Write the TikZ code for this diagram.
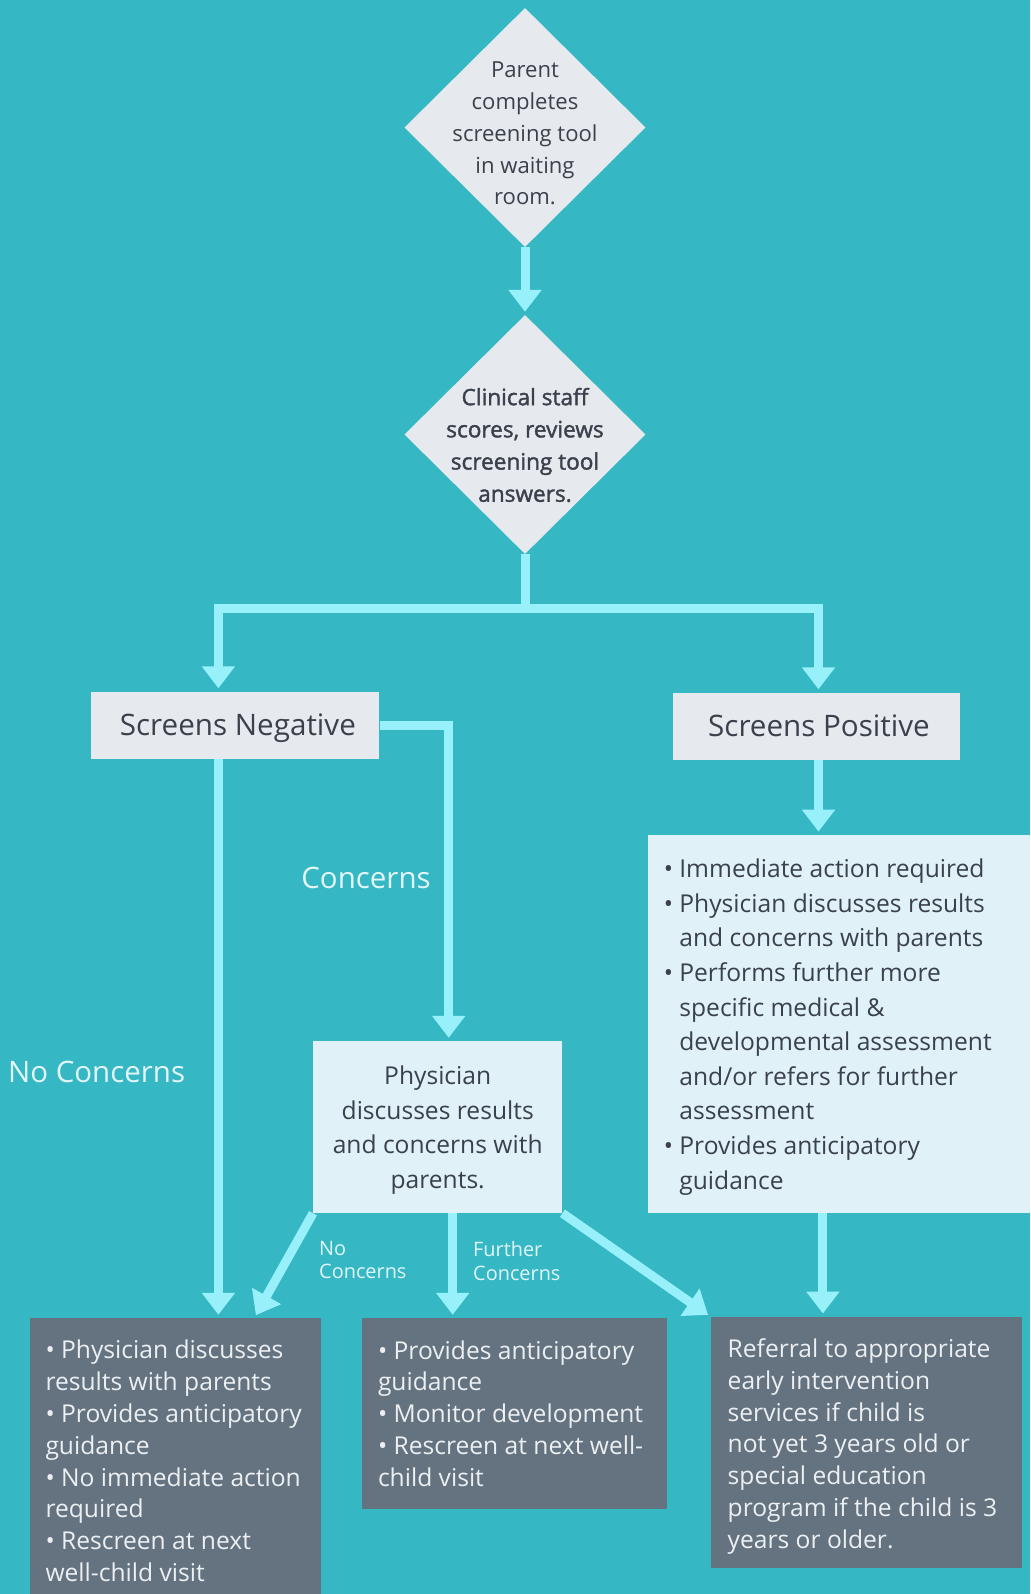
\documentclass[tikz,border=0pt]{standalone}
\usepackage{fontspec}
\setmainfont{Open Sans}
\newfontfamily\semibold{Open Sans}[FakeBold=1.6]
\usetikzlibrary{shapes.geometric,arrows.meta}
\definecolor{bg}{RGB}{53,184,196}
\definecolor{flowc}{RGB}{152,240,250}
\definecolor{greybox}{RGB}{230,233,238}
\definecolor{paleblue}{RGB}{224,241,248}
\definecolor{slate}{RGB}{101,114,127}
\definecolor{ink}{RGB}{58,65,76}
\definecolor{lighttext}{RGB}{236,240,243}
\definecolor{labeltext}{RGB}{226,246,249}
\newcommand{\hangin}{\hphantom{• }}

\begin{document}
\begin{tikzpicture}[x=1pt, y=-1pt,
  decision/.style={diamond, fill=greybox, minimum width=241, minimum height=239, inner sep=0},
  dtext/.style={text=ink, align=center, inner sep=0, font=\fontsize{22.1}{31.8}\selectfont},
  greyrect/.style={rectangle, fill=greybox, text=ink, inner sep=0, text height=21pt, text depth=0pt, font=\fontsize{29.6}{34}\selectfont, minimum width=287, minimum height=67},
  panel/.style={rectangle, fill=paleblue, inner sep=0},
  darkpanel/.style={rectangle, fill=slate, inner sep=0},
  body/.style={align=left, inner sep=0, text=ink, font=\fontsize{24.6}{34.6}\selectfont},
  darkbody/.style={align=left, inner sep=0, text=lighttext, font=\fontsize{24.6}{31.8}\selectfont},
  link/.style={draw=flowc, line width=9pt},
  flow/.style={link, -{Triangle[width=32pt,length=22pt]}, shorten >=3pt},
  tag/.style={text=labeltext, inner sep=0, font=\fontsize{29.5}{34}\selectfont},
  smalltag/.style={text=labeltext, align=left, inner sep=0, font=\fontsize{19.9}{23.4}\selectfont}]
  \useasboundingbox (0,0) rectangle (1030,1594);
  \fill[bg] (0,0) rectangle (1030,1594);

  \node[decision] (parent) at (525,127.5) {};
  \node[dtext] (parenttxt) at (525,133.5) {Parent\\completes\\screening tool\\in waiting\\room.};
  \node[decision] (clinical) at (525,434.5) {};
  \node[dtext, font=\semibold\fontsize{22.6}{32.2}\selectfont] (clinicaltxt) at (525,445) {Clinical staff\\scores, reviews\\screening tool\\answers.};

  \node[greyrect, minimum width=288] (neg) at (235.4,725) {\hspace{5pt}Screens Negative};
  \node[greyrect] (pos) at (816.5,726) {\hspace{5pt}Screens Positive};

  \node[panel, minimum width=249, minimum height=172] (phys) at (437.7,1127) {};
  \node[body, align=center] (physstxt) at ([shift={(0,3)}]phys.center) {Physician\\discusses results\\and concerns with\\parents.};
  \node[panel, minimum width=382.3, minimum height=378.2] (action) at (838.9,1023.9) {};
  \node[body, anchor=west] (actiontxt) at ([shift={(16,3)}]action.west) {• Immediate action required\\• Physician discusses results\\\hangin and concerns with parents\\• Performs further more\\\hangin specific medical \&\\\hangin developmental assessment\\\hangin and/or refers for further\\\hangin assessment\\• Provides anticipatory\\\hangin guidance};

  \node[darkpanel, minimum width=291.8, minimum height=286] (outA) at (175.4,1461) {};
  \node[darkbody, anchor=west] (outAtxt) at ([xshift=16pt]outA.west) {• Physician discusses\\results with parents\\• Provides anticipatory\\guidance\\• No immediate action\\required\\• Rescreen at next\\well-child visit};
  \node[darkpanel, minimum width=305, minimum height=191] (outB) at (514.5,1413.5) {};
  \node[darkbody, anchor=west] (outBtxt) at ([xshift=16pt]outB.west) {• Provides anticipatory\\guidance\\• Monitor development\\• Rescreen at next well-\\child visit};
  \node[darkpanel, minimum width=311.2, minimum height=251.3] (outC) at (866.3,1442.4) {};
  \node[darkbody, anchor=west] (outCtxt) at ([shift={(17,4)}]outC.west) {Referral to appropriate\\early intervention\\services if child is\\not yet 3 years old or\\special education\\program if the child is 3\\years or older.};

  \node[tag] (concernslbl) at (366,877.5) {Concerns};
  \node[tag] (noconcernslbl) at (96.6,1071.7) {No Concerns};
  \node[smalltag, anchor=west] (noclbl) at (319,1260) {No\\Concerns};
  \node[smalltag, anchor=west] (furtherlbl) at (473,1261) {Further\\Concerns};

  \coordinate (split) at (525,608);
  \draw[flow] (parent.south) -- (clinical.north);
  \draw[link] (clinical.south) -- (split);
  \draw[flow] (split) -| ([xshift=-17pt]neg.north);
  \draw[flow] (split) -| ([xshift=2pt]pos.north);
  \draw[flow] (neg.east) -| ([xshift=11pt]phys.north);
  \draw[flow] ([xshift=-17pt]neg.south) -- ([xshift=-17pt]neg.south |- outA.north);
  \draw[flow] (phys.south west) -- ([xshift=79pt]outA.north);
  \draw[flow] ([xshift=15pt]phys.south) -- ([xshift=15pt]phys.south |- outB.north);
  \draw[flow] (phys.south east) -- (outC.north west);
  \draw[flow] ([xshift=2pt]pos.south) -- ([xshift=2pt]pos.south |- action.north);
  \draw[flow] ([xshift=-16pt]action.south) -- ([xshift=-16pt]action.south |- outC.north);
\end{tikzpicture}
\end{document}
